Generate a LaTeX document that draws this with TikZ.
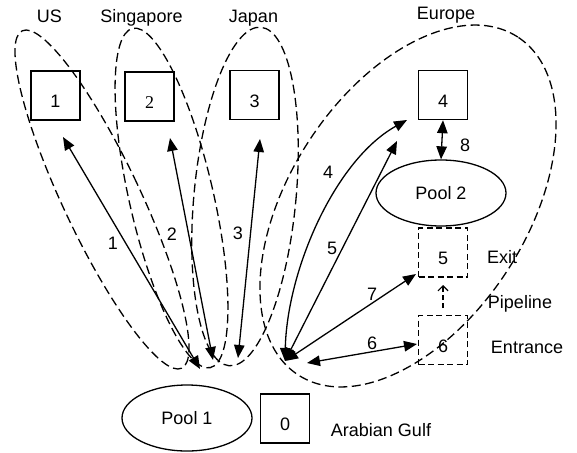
\documentclass[tikz,border=0pt]{standalone}
\usepackage{fontspec}
\setmainfont{Liberation Sans}
\newfontfamily\serifnum{Liberation Serif}
\usetikzlibrary{arrows.meta,shapes.geometric}
\begin{document}
\begin{tikzpicture}[x=1pt,y=-1pt,
  every node/.style={font=\fontsize{18}{20}\selectfont, inner sep=0pt},
  box/.style={draw, line width=1.4pt, minimum width=49pt, minimum height=49pt, text height=24pt, text depth=0pt},
  dbox/.style={box, line width=1.3pt, dash pattern=on 6pt off 3.5pt},
  pool/.style={draw, ellipse, line width=1.3pt, minimum width=130pt, minimum height=66pt},
  region/.style={line width=1.3pt, dash pattern=on 9pt off 4.5pt},
  arr/.style={line width=1.3pt, {Triangle[length=13pt,width=10.5pt]}-{Triangle[length=13pt,width=10.5pt]}},
  pipe/.style={line width=1.2pt, dash pattern=on 5pt off 3pt, -{Straight Barb[length=5pt,width=10pt]}}]
\useasboundingbox (0,0) rectangle (577,452);

% regions
\draw[region, rotate around={25.3:(102,199.5)}] (102,199.5) ellipse [x radius=38.5pt, y radius=186.6pt];
\draw[region, rotate around={12.9:(171.5,198)}] (171.5,198) ellipse [x radius=42pt, y radius=174pt];
\draw[region, rotate around={-5.4:(245,196.5)}] (245,196.5) ellipse [x radius=51pt, y radius=170pt];
\draw[region, rotate around={57:(408,206)}] (408,206) ellipse [x radius=201.5pt, y radius=118.5pt];

% region names
\node[anchor=base] (us) at (49.5,23) {US};
\node[anchor=base] (sg) at (141.5,23) {Singapore};
\node[anchor=base] (jp) at (253.5,23) {Japan};
\node[anchor=base] (eu) at (446,20) {Europe};

% boxes
\node[box] (b1) at (55.5,95.5) {1};
\node[box] (b2) at (149.5,96.5) {\serifnum 2};
\node[box] (b3) at (254.5,95) {3};
\node[box] (b4) at (443,95) {4};
\node[dbox] (b5) at (443,252.5) {5};
\node[dbox] (b6) at (443,340) {6};
\node[box] (b0) at (285,418.5) {0};
\node[pool] (p2) at (441,193) {Pool 2};
\node[pool] (p1) at (187,418) {Pool 1};

% side labels
\node (exit) at (502,257) {Exit};
\node[anchor=base] (pipel) at (520,308.5) {Pipeline};
\node (ent) at (527,347) {Entrance};
\node (ag) at (381,430) {Arabian Gulf};

% connector end points
\coordinate (c1t) at (63,137);
\coordinate (c1b) at (200,369);
\coordinate (c2t) at (170,138);
\coordinate (c2b) at (213,360);
\coordinate (c3t) at (260,139);
\coordinate (c3b) at (238,358);
\coordinate (hub) at (285,361);
\coordinate (c4t) at (407,120);
\coordinate (c5t) at (397,141);
\coordinate (c7t) at (416,274);
\coordinate (c6l) at (307,363);
\coordinate (c6r) at (417,344);
\coordinate (pipeA) at (443,308);
\coordinate (pipeB) at (443,285);

% connectors
\draw[arr] (c1b) -- (c1t);
\draw[arr] (c2b) -- (c2t);
\draw[arr] (c3b) -- (c3t);
\draw[arr] (hub) .. controls (287,270) and (335,160) .. (c4t);
\draw[arr] (hub) -- (c5t);
\draw[arr] (hub) -- (c7t);
\draw[arr] (c6l) -- (c6r);
\draw[arr] (b4.south) -- (p2.north);
\draw[pipe] (pipeA) -- (pipeB);

% connector labels
\node (l1) at (113,243) {1};
\node (l2) at (172,234) {2};
\node (l3) at (238,233) {3};
\node (l4) at (328,172) {4};
\node (l5) at (332,248) {5};
\node (l7) at (372,294) {7};
\node (l6) at (372,343) {6};
\node (l8) at (465,145) {8};
\end{tikzpicture}
\end{document}
